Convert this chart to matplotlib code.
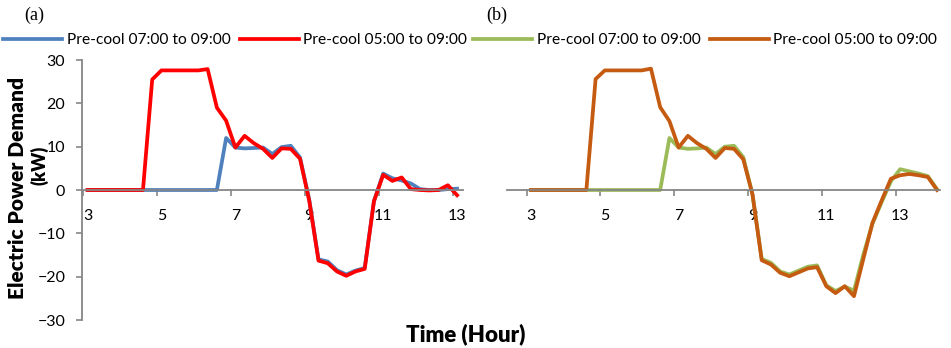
import matplotlib.pyplot as plt
from matplotlib.ticker import FixedLocator

plt.rcParams['font.family'] = ['Lato', 'DejaVu Sans']

# quarter-hour categories
hours_a = [3.0, 3.25, 3.5, 3.75, 4.0, 4.25, 4.5, 4.75, 5.0, 5.25, 5.5, 5.75,
           6.0, 6.25, 6.5, 6.75, 7.0, 7.25, 7.5, 7.75, 8.0, 8.25, 8.5, 8.75,
           9.0, 9.25, 9.5, 9.75, 10.0, 10.25, 10.5, 10.75, 11.0, 11.25, 11.5,
           11.75, 12.0, 12.25, 12.5, 12.75, 13.0]
hours_b = hours_a + [13.25, 13.5, 13.75, 14.0]

# (a)
a_7to9 = [0, 0, 0, 0, 0, 0, 0, 0, 0, 0, 0, 0, 0, 0, 0,
          12.0, 9.8, 9.6, 9.7, 9.8, 8.3, 9.9, 10.2, 7.5,
          -2.3, -16.0, -16.5, -18.5, -19.5, -18.6, -18.0, -2.6,
          3.8, 2.7, 2.2, 1.5, 0.2, 0.0, 0.0, 0.2, 0.3]
a_5to9 = [0, 0, 0, 0, 0, 0, 0,
          25.5, 27.6, 27.6, 27.6, 27.6, 27.6, 27.9, 19.0, 16.0,
          9.8, 12.5, 10.8, 9.5, 7.4, 9.6, 9.5, 7.2,
          -2.5, -16.3, -16.9, -18.8, -19.8, -18.8, -18.2, -2.6,
          3.5, 2.1, 2.9, 0.2, 0.0, -0.1, 0.0, 1.1, -1.2]

# (b)
b_7to9 = [0, 0, 0, 0, 0, 0, 0, 0, 0, 0, 0, 0, 0, 0, 0,
          12.0, 9.8, 9.5, 9.6, 9.8, 8.3, 10.0, 10.2, 7.6,
          -1.0, -15.9, -16.8, -18.8, -19.5, -18.6, -17.7, -17.4,
          -22.0, -23.3, -22.3, -23.2, -15.0, -7.8, -2.8, 2.0,
          4.8, 4.3, 3.8, 3.2, 0.2]
b_5to9 = [0, 0, 0, 0, 0, 0, 0,
          25.6, 27.6, 27.6, 27.6, 27.6, 27.6, 28.0, 19.1, 15.9,
          9.8, 12.5, 10.8, 9.5, 7.4, 9.7, 9.5, 7.1,
          -1.0, -16.2, -17.2, -19.1, -19.9, -19.0, -18.1, -17.8,
          -22.2, -23.8, -22.2, -24.5, -16.0, -7.6, -2.4, 2.6,
          3.4, 3.7, 3.4, 3.0, 0.0]

label_hours = [3, 5, 7, 9, 11, 13]
y_ticks = [-30, -20, -10, 0, 10, 20, 30]
names = ['Pre-cool 07:00 to 09:00', 'Pre-cool 05:00 to 09:00']

W, H = 951, 348
fig = plt.figure(figsize=(W / 100, H / 100), dpi=100)
axgray = '#868686'


def px_axes(x0, x1, y0, y1):
    return fig.add_axes([x0 / W, 1 - y1 / H, (x1 - x0) / W, (y1 - y0) / H])


def style(ax, xlim, show_y):
    ax.set_xlim(*xlim)
    ax.set_ylim(-30, 30)
    ax.spines['top'].set_visible(False)
    ax.spines['right'].set_visible(False)
    ax.spines['bottom'].set_position(('data', 0))
    ax.spines['bottom'].set_color(axgray)
    ax.spines['bottom'].set_linewidth(1.3)
    ax.set_xticks(label_hours)
    ax.set_xticklabels([str(h) for h in label_hours])
    ax.xaxis.set_minor_locator(FixedLocator([h - 0.12 for h in label_hours]))
    ax.tick_params(axis='x', which='major', length=0, pad=14, labelsize=11.5)
    ax.tick_params(axis='x', which='minor', length=4, width=1.2, color=axgray,
                   direction='out')
    if show_y:
        ax.spines['left'].set_color(axgray)
        ax.spines['left'].set_linewidth(1.3)
        ax.set_yticks(y_ticks)
        ax.tick_params(axis='y', length=4, width=1.2, color=axgray, pad=8,
                       labelsize=11.5)
    else:
        ax.spines['left'].set_visible(False)
        ax.set_yticks([])
    ax.patch.set_visible(False)


lw = 2.7
ax1 = px_axes(82, 463, 60, 320)
l1, = ax1.plot(hours_a, a_7to9, color='#4F81BD', lw=lw, solid_joinstyle='round')
l2, = ax1.plot(hours_a, a_5to9, color='#FF0000', lw=lw, solid_joinstyle='round')
style(ax1, (2.85, 13.16), True)

ax2 = px_axes(507, 940, 60, 320)
l3, = ax2.plot(hours_b, b_7to9, color='#9BBB59', lw=lw, solid_joinstyle='round')
l4, = ax2.plot(hours_b, b_5to9, color='#C55A11', lw=lw, solid_joinstyle='round')
style(ax2, (2.35, 14.08), False)

leg_kw = dict(ncol=2, frameon=False, fontsize=11.2, handlelength=3.8,
              handletextpad=0.3, columnspacing=0.6, borderaxespad=0,
              loc='center')
fig.legend([l1, l2], names, bbox_to_anchor=(235 / W, 1 - 40 / H), **leg_kw)
fig.legend([l3, l4], names, bbox_to_anchor=(705 / W, 1 - 40 / H), **leg_kw)

fig.text(34 / W, 1 - 15 / H, '(a)', family='Liberation Serif', fontsize=13,
         ha='center', va='center')
fig.text(497 / W, 1 - 15 / H, '(b)', family='Liberation Serif', fontsize=13,
         ha='center', va='center')

fig.text(18 / W, 1 - 188 / H, 'Electric Power Demand', rotation=90,
         fontsize=15, fontweight='heavy', ha='center', va='center')
fig.text(39 / W, 1 - 165 / H, '(kW)', rotation=90,
         fontsize=13, fontweight='heavy', ha='center', va='center')
fig.text(466 / W, 1 - 334 / H, 'Time (Hour)', fontsize=16, fontweight='heavy',
         ha='center', va='center')

fig.savefig('out.png', dpi=100)
